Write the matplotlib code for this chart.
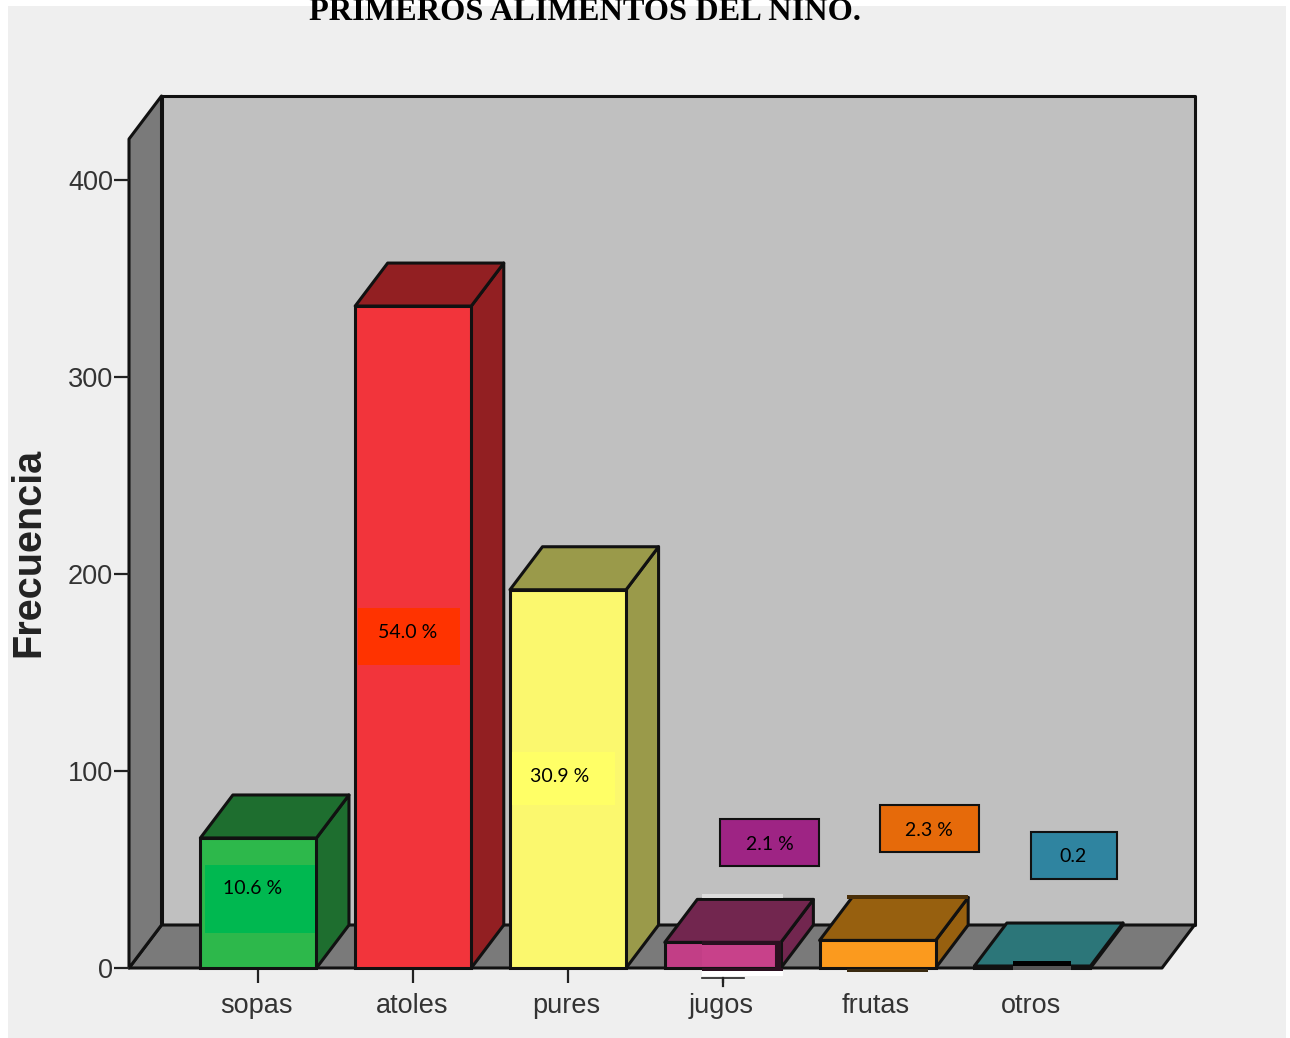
#!/usr/bin/env python3
"""Bar chart with a box-style 3D look: first foods given to the child."""

import matplotlib
matplotlib.use("Agg")
import matplotlib.pyplot as plt
from matplotlib.patches import Polygon, Rectangle
from matplotlib.transforms import Affine2D

categories = ["sopas", "atoles", "pures", "jugos", "frutas", "otros"]
frecuencia = [66, 336, 192, 13, 14, 1]
porcentajes = ["10.6 %", "54.0 %", "30.9 %", "2.1 %", "2.3 %", "0.2"]
y_ticks = [0, 100, 200, 300, 400]

front_colors = ["#2db84b", "#f2343b", "#fbf86e", "#c23e86", "#fb9a1e", "#34a0a4"]
dark_colors = ["#1e6e2f", "#921f22", "#9a9a4a", "#72264f", "#97600f", "#2c7679"]
# x0, y0, x1, y1 of the callout box, fill, has border
label_boxes = [
    (205, 865, 315, 933, "#00b850", False),
    (358, 608, 460, 665, "#ff3300", False),
    (512, 752, 615, 805, "#ffff66", False),
    (720, 819, 819, 866, "#9e2484", True),
    (880, 805, 979, 852, "#e66a0a", True),
    (1031, 832, 1117, 879, "#2f84a0", True),
]
# text centre of the callouts
label_centres = [(253, 889), (408, 633), (560, 776), (770, 844), (929, 830), (1073, 857)]

W, H = 1290, 1038
LINE = "#111111"
PANEL = "#efefef"

fig = plt.figure(figsize=(W / 100, H / 100), dpi=100, facecolor="white")

bg = fig.add_axes([0, 0, 1, 1], zorder=0)
bg.set_xlim(0, W)
bg.set_ylim(H, 0)
bg.axis("off")
bg.add_patch(Rectangle((8, 6), 1278, 1032, facecolor=PANEL, edgecolor="none"))

ax = fig.add_axes([129 / W, (H - 968) / H, 1033 / W, 829 / H], zorder=1)
ax.set_xlim(-0.836, 5.837)
ax.set_ylim(0, 420.8)
ax.patch.set_visible(False)
for side in ax.spines.values():
    side.set_visible(False)

# depth of the box, in data units
dx = 32.5 / 154.8
dy = 43 / 1.97
x0, x1 = ax.get_xlim()
y0, y1 = ax.get_ylim()


def poly(points, color, lw=2.2, z=2):
    ax.add_patch(Polygon(points, closed=True, facecolor=color, edgecolor=LINE,
                         linewidth=lw, joinstyle="round", clip_on=False, zorder=z))


# back wall, floor, left wall
poly([(x0 + dx, y0 + dy), (x1 + dx, y0 + dy), (x1 + dx, y1 + dy), (x0 + dx, y1 + dy)], "#c0c0c0", z=1)
poly([(x0, y0), (x1, y0), (x1 + dx, y0 + dy), (x0 + dx, y0 + dy)], "#7a7a7a", z=1)
poly([(x0, y0), (x0 + dx, y0 + dy), (x0 + dx, y1 + dy), (x0, y1)], "#7a7a7a", z=1)

width = 0.75
for i, value in enumerate(frecuencia):
    left, right = i - width / 2, i + width / 2
    poly([(right, 0), (right + dx, dy), (right + dx, value + dy), (right, value)], dark_colors[i], z=3)
    poly([(left, value), (right, value), (right + dx, value + dy), (left + dx, value + dy)], dark_colors[i], z=3)
    ax.bar(i, value, width, color=front_colors[i], edgecolor=LINE, linewidth=2.2, zorder=4, clip_on=False)

ax.set_yticks(y_ticks)
ax.set_xticks(range(len(categories)))
ax.set_xticklabels(categories)
ax.tick_params(axis="y", length=11, width=1.6, color="#222222", pad=0.5,
               labelsize=19.5, labelcolor="#333333")
ax.tick_params(axis="x", length=11, width=1.6, color="#222222", pad=7,
               labelsize=19.5, labelcolor="#333333")
for lab in ax.get_xticklabels() + ax.get_yticklabels():
    lab.set_fontfamily("Liberation Sans")
# category names sit a little left of their ticks
for lab in ax.get_xticklabels():
    lab.set_transform(lab.get_transform() + Affine2D().translate(-1.5, 0))

# callouts and pasted-over pieces live in pixel space on top of the chart
top = fig.add_axes([0, 0, 1, 1], zorder=2)
top.set_xlim(0, W)
top.set_ylim(H, 0)
top.axis("off")
top.patch.set_visible(False)

for (bx0, by0, bx1, by1, color, border), text, (tx, ty) in zip(label_boxes, porcentajes, label_centres):
    top.add_patch(Rectangle((bx0, by0), bx1 - bx0, by1 - by0, facecolor=color,
                            edgecolor="#111111" if border else "none", linewidth=1.5))
    top.text(tx, ty, text, ha="center", va="center", fontsize=14, color="black", family="Lato")


def scrap(x, y, w, h, color):
    top.add_patch(Rectangle((x, y), w, h, facecolor=color, edgecolor="none"))


# jugos: pasted strip over the bar, white scraps above and below
scrap(702, 894, 81, 4, "#dcdcdc")
scrap(702, 941, 79, 4, "#2a1020")
scrap(702, 945, 72, 21, "#c8418a")
scrap(775, 941, 6, 29, "#2a1020")
scrap(702, 968, 81, 3, "#2a1020")
scrap(702, 971, 81, 5, "white")
scrap(702, 976, 81, 3, PANEL)
top.plot([702, 744], [978, 978], color="#222222", lw=1.2)
top.plot([723, 723], [978, 986], color="#222222", lw=1.6)
# frutas: same kind of strip, which also hides the tick
scrap(847, 895, 121, 4, "#4a2f08")
scrap(847, 969, 81, 3, "#3a2a10")
scrap(847, 972, 81, 16, PANEL)
# otros: black sliver at the front edge, tick hidden
scrap(1013, 961, 58, 5, "black")
scrap(1013, 966, 58, 4, "#555555")
scrap(1013, 970, 58, 18, PANEL)

top.text(585, 20, "PRIMEROS ALIMENTOS DEL NIÑO.", ha="center", va="baseline",
         fontsize=23.3, fontweight="bold", family="Liberation Serif", color="black")
top.text(28, 552.5, "Frecuencia", rotation=90, ha="center", va="center", fontsize=28.5,
         fontweight="bold", family="Liberation Sans", color="#222222")

fig.savefig("out.png", dpi=100)
plt.close(fig)
